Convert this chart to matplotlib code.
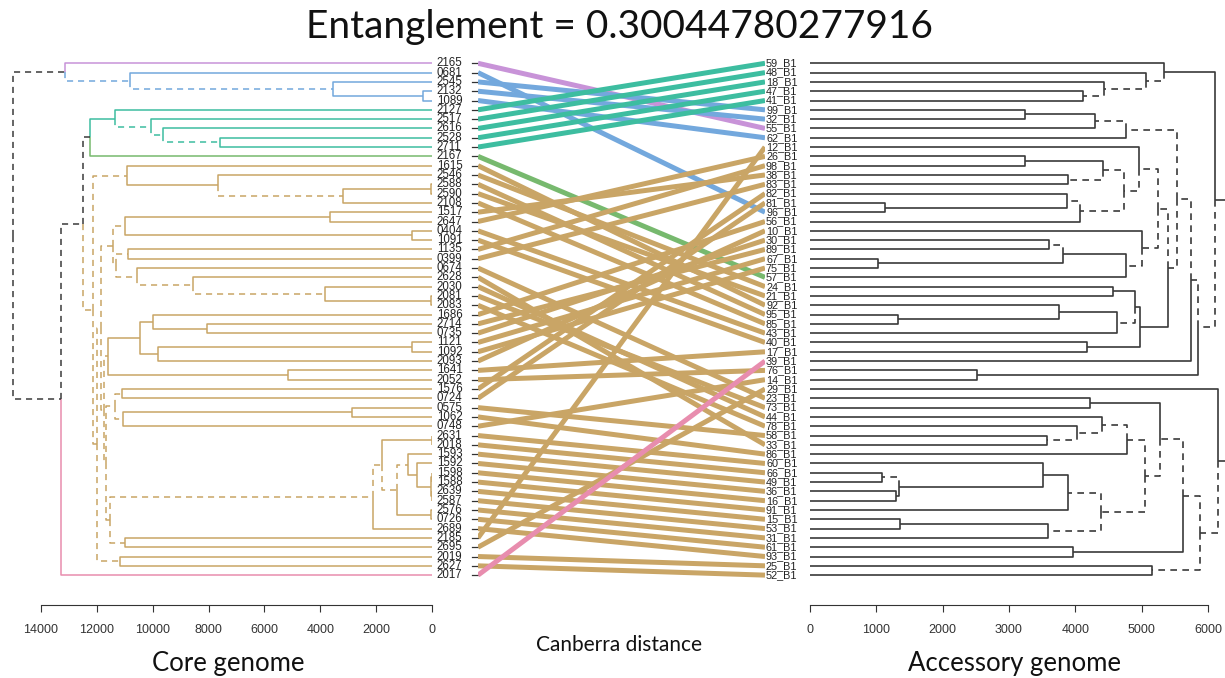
import matplotlib
matplotlib.use("Agg")
import matplotlib.pyplot as plt

# ---- leaf labels, top to bottom ----
core_labels = ["2165", "0681", "2545", "2132", "1089", "2127", "2517", "2616", "2528", "2711",
               "2167", "1615", "2546", "2588", "2590", "2108", "1517", "2647", "0404", "1091",
               "1135", "0399", "0674", "2628", "2030", "2081", "2083", "1686", "2714", "0735",
               "1121", "1092", "2093", "1641", "2052", "1576", "0724", "0575", "1062", "0748",
               "2631", "2018", "1593", "1592", "1598", "1588", "2639", "2587", "2576", "0726",
               "2689", "2185", "2695", "2019", "2627", "2017"]
acc_ids = [59, 48, 18, 47, 41, 99, 32, 55, 62, 12, 26, 98, 38, 83, 82, 81, 96, 56, 10, 30,
           89, 67, 75, 57, 24, 21, 92, 95, 85, 43, 40, 17, 39, 76, 14, 29, 23, 73, 44, 78,
           58, 33, 86, 60, 66, 49, 36, 16, 91, 15, 53, 31, 61, 93, 25, 52]
acc_labels = [f"{n}_B1" for n in acc_ids]

# cluster of each core leaf: 0 purple, 1 blue, 2 teal, 3 green, 4 tan, 5 pink
core_groups = [0] + [1] * 4 + [2] * 5 + [3] + [4] * 44 + [5]
group_colors = ["#c893d8", "#73a8dd", "#3dbda0", "#77b96e", "#c9a566", "#e88dae"]

# position on the accessory side of each core leaf
acc_pos = [7, 16, 5, 6, 8, 0, 1, 2, 3, 4, 23,
           26, 24, 27, 25, 28, 12, 10, 29, 30, 11, 13, 36, 41, 38, 37, 39,
           17, 20, 19, 21, 22, 18, 31, 33, 14, 15, 40, 42, 34,
           43, 44, 45, 46, 47, 48, 49, 50, 51, 52, 53, 9, 35, 54, 55,
           32]

# ---- core genome tree: (height, upper, lower), leaves are row numbers ----
tan_a = (10920, 11, (7660, 12, (3200, (20, 13, 14), 15)))
tan_b = (11000, (3650, 16, 17), (700, 18, 19))
tan_c = (10880, 20, 21)
tan_d = (10560, 22, (8550, 23, (3830, 24, (30, 25, 26))))
tan_e = (11600, (10450, (9990, 27, (8060, 28, 29)), (9800, (710, 30, 31), 32)), (5160, 33, 34))
tan_f = (11100, 35, 36)
tan_g = (11060, (2860, 37, 38), 39)
tan_h = (2110, (1790, (15, 40, 41),
                (1250, (850, 42, (540, 43, (35, (10, 44, 45), (12, 46, 47)))), (25, 48, 49))), 50)
tan_i = (10990, 51, 52)
tan_j = (11170, 53, 54)
tan = (12140, tan_a,
       (11990,
        (11850,
         (11420, tan_b, (11330, tan_c, tan_d)),
         (11740, tan_e, (11670, (11360, tan_f, tan_g), (11530, tan_h, tan_i)))),
        tan_j))
core_tree = (15000,
             (13140, 0, (10810, 1, (3540, 2, (320, 3, 4)))),
             (13280,
              (12500, (12250, (11350, 5, (10070, 6, (9630, 7, (7590, 8, 9)))), 10), tan),
              55))
# branches found only in this tree (drawn dashed), by node height
core_distinct = {13140, 13280, 10810, 3540, 12500, 12250, 12140, 10070, 9630, 7590,
                 10920, 11990, 3200, 11850, 11170, 11420, 11740, 11000, 11330, 10880,
                 10560, 11600, 11670, 11360, 11530, 11100, 11060, 2110, 10990, 8550,
                 3830, 1790, 1250, 850}

# ---- accessory genome tree ----
acc_top = (5340, 0, (5070, 1, (4430, 2, (4120, 3, 4))))
acc_n4760 = (4760, (4300, (3240, 5, 6), 7), 8)
acc_n4960 = (4960, 9, (4730, (4420, (3245, 10, 11), (3890, 12, 13)),
                       (4070, (3870, 14, (1130, 15, 16)), 17)))
acc_n5000 = (5000, 18, (4770, (3820, (3600, 19, 20), (1030, 21, 22)), 23))
acc_n4975 = (4975, (4900, (4570, 24, 25), (4630, (3750, 26, (1330, 27, 28)), 29)), (4180, 30, 31))
acc_upper = (6100, acc_top,
             (5850, (5740, (5540, acc_n4760, (5400, (5250, acc_n4960, acc_n5000), acc_n4975)), 32),
              (2520, 33, 34)))
acc_n4780 = (4780, (4400, 38, (4020, 39, (3570, 40, 41))), 42)
acc_n4380 = (4380, (3895, (3510, 43, (1340, (1080, 44, 45), (1290, 46, 47))), 48),
             (3590, (1360, 49, 50), 51))
acc_lower = (6150, 35, (5880, (5630, (5280, (4220, 36, 37), (5050, acc_n4780, acc_n4380)),
                                (3970, 52, 53)), (5160, 54, 55)))
acc_tree = (6400, acc_upper, acc_lower)
acc_distinct = {5070, 4430, 4120, 4300, 4760, 5540, 5400, 5250, 4960, 5000, 4730, 4420,
                4070, 3890, 3870, 4770, 3600, 4630, 5740, 5850, 5880, 5630, 5160, 5280,
                5050, 4780, 4380, 4400, 4020, 3570, 3895, 3590, 1080}

n = len(core_labels)
W, H = 1225, 678
fig = plt.figure(figsize=(W / 100, H / 100), dpi=100)
fig.patch.set_facecolor("white")

row_top, row_step = 63.3, 9.306
y0 = row_top - row_step / 2
y1 = row_top + (n - 0.5) * row_step


def box(x0, x1):
    return fig.add_axes([x0 / W, 1 - y1 / H, (x1 - x0) / W, (y1 - y0) / H])


def leaves(node):
    if isinstance(node, int):
        return [node]
    return leaves(node[1]) + leaves(node[2])


def draw_tree(ax, node, distinct, colour_of, lw):
    # R style: each branch is a vertical at the parent plus a horizontal to the child
    if isinstance(node, int):
        return float(node)
    h, a, b = node
    ya = draw_tree(ax, a, distinct, colour_of, lw)
    yb = draw_tree(ax, b, distinct, colour_of, lw)
    y = (ya + yb) / 2
    for child, yc in ((a, ya), (b, yb)):
        hc = 0 if isinstance(child, int) else child[0]
        ls = (0, (4, 3.2)) if hc in distinct else "-"
        ax.plot([h, h, hc], [y, yc, yc], color=colour_of(child), lw=lw, ls=ls,
                solid_capstyle="butt", dash_capstyle="butt")
    return y


def core_colour(node):
    g = {core_groups[i] for i in leaves(node)}
    return group_colors[g.pop()] if len(g) == 1 else "#3a3a3a"


def style_axis(ax, lim, step):
    for s in ("top", "left", "right"):
        ax.spines[s].set_visible(False)
    ax.spines["bottom"].set_position(("outward", 18))
    ax.spines["bottom"].set_bounds(0, lim)
    ax.spines["bottom"].set_color("#333333")
    ax.set_xticks(range(0, lim + 1, step))
    ax.tick_params(axis="x", length=5, width=0.8, colors="#333333", labelsize=9, pad=9)
    ax.set_yticks([])
    ax.set_ylim(n - 0.5, -0.5)
    ax.patch.set_alpha(0)
    for t in ax.get_xticklabels():
        t.set_family("Liberation Sans")


# left: core genome
ax_l = box(0, 432)
draw_tree(ax_l, core_tree, core_distinct, core_colour, 1.1)
ax_l.set_xlim(432 / 0.02793, 0)
style_axis(ax_l, 14000, 2000)
for i, lab in enumerate(core_labels):
    ax_l.annotate(lab, xy=(0, i), xytext=(3.5, 0), textcoords="offset points",
                  ha="left", va="center", fontsize=8.3, family="Liberation Sans",
                  color="#222222", annotation_clip=False)

# right: accessory genome
ax_r = box(810, 1225)
draw_tree(ax_r, acc_tree, acc_distinct, lambda node: "#3a3a3a", 1.2)
ax_r.set_xlim(0, 415 / 0.06633)
style_axis(ax_r, 6000, 1000)
for i, lab in enumerate(acc_labels):
    ax_r.annotate(lab, xy=(0, i), xytext=(-9, 0), textcoords="offset points",
                  ha="right", va="center", fontsize=7.8, family="Liberation Sans",
                  color="#222222", annotation_clip=False)

# middle: connecting lines, each starting from a short dark lead after the core label
ax_m = box(478, 765)
for i in range(n):
    ax_m.plot([-0.02, 0], [i, i], color="#333333", lw=0.9, clip_on=False)
    ax_m.plot([0, 1], [i, acc_pos[i]], color=group_colors[core_groups[i]], lw=3.6,
              solid_capstyle="butt")
ax_m.set_xlim(0, 1)
ax_m.set_ylim(n - 0.5, -0.5)
ax_m.axis("off")

fig.text(620 / W, 1 - 27 / H, "Entanglement = 0.30044780277916", ha="center", va="center",
         fontsize=28, family="Lato", color="#111111")
fig.text(228 / W, 1 - 663 / H, "Core genome", ha="center", va="center",
         fontsize=18.5, family="Lato", color="#111111")
fig.text(1014 / W, 1 - 663 / H, "Accessory genome", ha="center", va="center",
         fontsize=18.5, family="Lato", color="#111111")
fig.text(619 / W, 1 - 645 / H, "Canberra distance", ha="center", va="center",
         fontsize=15, family="Lato", color="#111111")

fig.savefig("out.png", dpi=100, facecolor="white")
